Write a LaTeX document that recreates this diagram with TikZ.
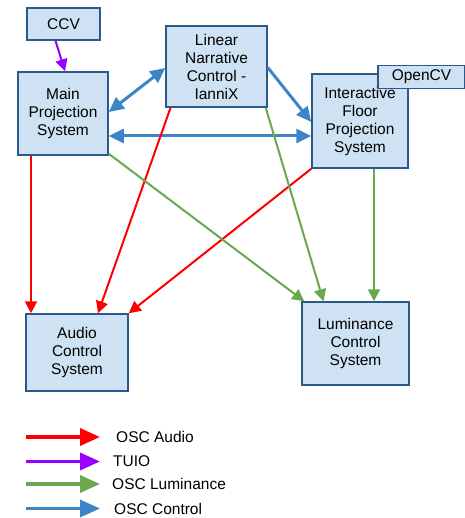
\documentclass[tikz,border=0pt]{standalone}
\usepackage{fontspec}
\setmainfont{Liberation Sans}
\usetikzlibrary{arrows.meta}

\definecolor{boxfill}{HTML}{CFE2F3}
\definecolor{boxline}{HTML}{2A5A8A}
\definecolor{oscblue}{HTML}{3D85C6}
\definecolor{oscgreen}{HTML}{6AA84F}
\definecolor{oscred}{HTML}{FF0000}
\definecolor{tuio}{HTML}{9900FF}

\begin{document}
\begin{tikzpicture}[x=1bp,y=-1bp,font=\fontsize{15.5bp}{18bp}\selectfont]
				\tikzstyle{box}=[draw=boxline,fill=boxfill,line width=1.5bp,inner sep=0pt,align=center]
				\tikzstyle{audio}=[draw=oscred,line width=2bp,-{Triangle[length=12bp,width=12bp]}]
				\tikzstyle{lum}=[draw=oscgreen,line width=2bp,-{Triangle[length=12bp,width=12bp]}]
				\tikzstyle{ctrl}=[draw=oscblue,line width=3bp,{Triangle[length=15bp,width=14bp]}-{Triangle[length=15bp,width=14bp]}]
				\tikzstyle{legend}=[line width=3.5bp,-{Triangle[length=20bp,width=17bp]}]
				\useasboundingbox (0,0) rectangle (465,518);
				% boxes
				\node[box,minimum width=73bp,minimum height=32bp] (ccv) at (63.5,24) {CCV};
				\node[box,minimum width=90bp,minimum height=83bp] (main) at (63,113.5) {Main\\Projection\\System};
				\node[box,minimum width=101bp,minimum height=81bp] (linear) at (216.5,66.5) {Linear\\Narrative\\Control -\\IanniX};
				\node[box,minimum width=96bp,minimum height=94bp] (inter) at (360,121) {Interactive\\Floor\\Projection\\System};
				\node[box,minimum width=87bp,minimum height=23bp] (opencv) at (421.5,77) {OpenCV};
				\node[box,minimum width=102bp,minimum height=77bp] (audio) at (77,352.5) {Audio\\Control\\System};
				\node[box,minimum width=107bp,minimum height=83bp] (lumsys) at (355.5,343.5) {Luminance\\Control\\System};
				% connections
				\draw[draw=tuio,line width=2bp,-{Triangle[length=12bp,width=12bp]}] ([xshift=-8bp]ccv.south) -- ([xshift=2bp]main.north);
				\draw[ctrl] ([yshift=1.5bp]main.east) -- ([yshift=-1.5bp]linear.west);
				\draw[ctrl] ([yshift=-22.5bp]main.east) -- ([yshift=-22.5bp]main.east -| inter.west);
				\draw[ctrl,-{Triangle[length=15bp,width=14bp]}] ([yshift=-1bp]linear.east) -- ([yshift=-1bp]inter.west);
				\draw[audio] ([xshift=-32bp]main.south) -- ([xshift=-32bp]main.south |- audio.north);
				\draw[audio] ([xshift=-46bp]linear.south) -- ([xshift=21bp]audio.north);
				\draw[audio] (inter.south west) -- (audio.north east);
				\draw[lum] ([yshift=2bp]main.south east) -- ([xshift=3bp]lumsys.north west);
				\draw[lum] ([xshift=-2bp]linear.south east) -- ([xshift=-32bp]lumsys.north);
				\draw[lum] ([xshift=14bp]inter.south) -- ([xshift=14bp]inter.south |- lumsys.north);
				% legend
				\foreach \name/\col/\txt/\yy/\tx in {la/oscred/OSC Audio/437/116,lt/tuio/TUIO/461.5/113,ll/oscgreen/OSC Luminance/484/112,lc/oscblue/OSC Control/508.5/114} {
					\coordinate (\name) at (26,\yy);
					\node[anchor=west,inner sep=0pt] (\name txt) at (\tx,\yy) {\txt};
					\draw[legend,draw=\col] (\name) -- (100,\yy);
				}
\end{tikzpicture}
\end{document}
